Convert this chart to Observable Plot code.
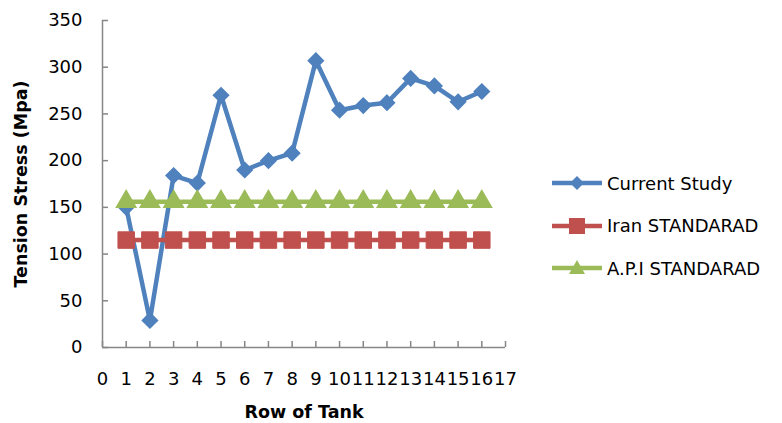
<!DOCTYPE html>
<html>
<head>
<meta charset="utf-8">
<script src="https://cdn.jsdelivr.net/npm/d3@7"></script>
<script src="https://cdn.jsdelivr.net/npm/@observablehq/plot@0.6"></script>
<style>
  body { margin: 0; background: #fff; }
  #wrap { position: relative; width: 782px; height: 423px; font-family: "DejaVu Sans", sans-serif; }
  #wrap svg g[aria-label$="axis label"] text { font-weight: bold; font-size: 17.5px; }
  #legend { position: absolute; left: 552px; top: 162px; }
  .row { display: flex; align-items: center; height: 42.5px; font-size: 18px; color: #000; white-space: nowrap; }
  .row svg { margin-right: 5px; }
</style>
</head>
<body>
<div id="wrap"></div>
<script>
const rows = [1, 2, 3, 4, 5, 6, 7, 8, 9, 10, 11, 12, 13, 14, 15, 16];
const currentStudy = [150, 29, 184, 176, 270, 190, 200, 208, 307, 254, 259, 262, 288, 280, 263, 274];
const iranStandard = [115, 115, 115, 115, 115, 115, 115, 115, 115, 115, 115, 115, 115, 115, 115, 115];
const apiStandard = [156, 156, 156, 156, 156, 156, 156, 156, 156, 156, 156, 156, 156, 156, 156, 156];
const xTicks = [0, 1, 2, 3, 4, 5, 6, 7, 8, 9, 10, 11, 12, 13, 14, 15, 16, 17];
const yTicks = [0, 50, 100, 150, 200, 250, 300, 350];
const seriesNames = ["Current Study", "Iran STANDARAD", "A.P.I STANDARAD"];
const colors = ["#4F81BD", "#C0504D", "#9BBB59"];
const symbols = ["diamond2", "square", "triangle"];

const cs = rows.map((r, i) => ({x: r, y: currentStudy[i]}));
const ir = rows.map((r, i) => ({x: r, y: iranStandard[i]}));
const api = rows.map((r, i) => ({x: r, y: apiStandard[i]}));

const chart = Plot.plot({
  width: 782,
  height: 423,
  marginLeft: 102,
  marginRight: 277,
  marginTop: 20,
  marginBottom: 76,
  style: {fontFamily: "DejaVu Sans, sans-serif", fontSize: "18px", color: "#000", background: "#fff"},
  x: {domain: [0, 17]},
  y: {domain: [0, 350]},
  marks: [
    Plot.axisX(xTicks, {tickSize: -6, tickPadding: 31, stroke: "#868686", fill: "#000", strokeWidth: 1.5,
      label: "Row of Tank", labelAnchor: "center", labelArrow: "none", labelOffset: 70, tickFormat: d => String(d)}),
    Plot.axisY(yTicks, {tickSize: -6, tickPadding: 26, stroke: "#868686", fill: "#000", strokeWidth: 1.5,
      label: "Tension Stress (Mpa)", labelAnchor: "center", labelArrow: "none", labelOffset: 88, tickFormat: d => String(d)}),
    Plot.ruleX([0], {stroke: "#868686", strokeWidth: 1.5}),
    Plot.ruleY([0], {stroke: "#868686", strokeWidth: 1.5}),
    Plot.line(cs, {x: "x", y: "y", stroke: colors[0], strokeWidth: 4.5}),
    Plot.dot(cs, {x: "x", y: "y", symbol: symbols[0], r: 6.8, fill: colors[0], stroke: colors[0]}),
    Plot.line(ir, {x: "x", y: "y", stroke: colors[1], strokeWidth: 4.5}),
    Plot.dot(ir, {x: "x", y: "y", symbol: symbols[1], r: 9.3, fill: colors[1], stroke: colors[1], strokeWidth: 1}),
    Plot.line(api, {x: "x", y: "y", stroke: colors[2], strokeWidth: 4.5}),
    Plot.dot(api, {x: "x", y: "y", symbol: symbols[2], r: 7.2, fill: colors[2], stroke: colors[2]})
  ]
});
document.getElementById("wrap").appendChild(chart);

// Legend (HTML)
const legend = document.createElement("div");
legend.id = "legend";
const symPaths = {
  "diamond2": "M25,3 L32,10 L25,17 L18,10 Z",
  "square": "M17,2 L33,2 L33,18 L17,18 Z",
  "triangle": "M25,2 L33,16 L17,16 Z"
};
seriesNames.forEach((name, i) => {
  const row = document.createElement("div");
  row.className = "row";
  row.innerHTML = `<svg width="50" height="20" viewBox="0 0 50 20"><line x1="0" y1="10" x2="50" y2="10" stroke="${colors[i]}" stroke-width="4.5"/><path d="${symPaths[symbols[i]]}" fill="${colors[i]}"/></svg><span>${name}</span>`;
  legend.appendChild(row);
});
document.getElementById("wrap").appendChild(legend);
</script>
</body>
</html>
